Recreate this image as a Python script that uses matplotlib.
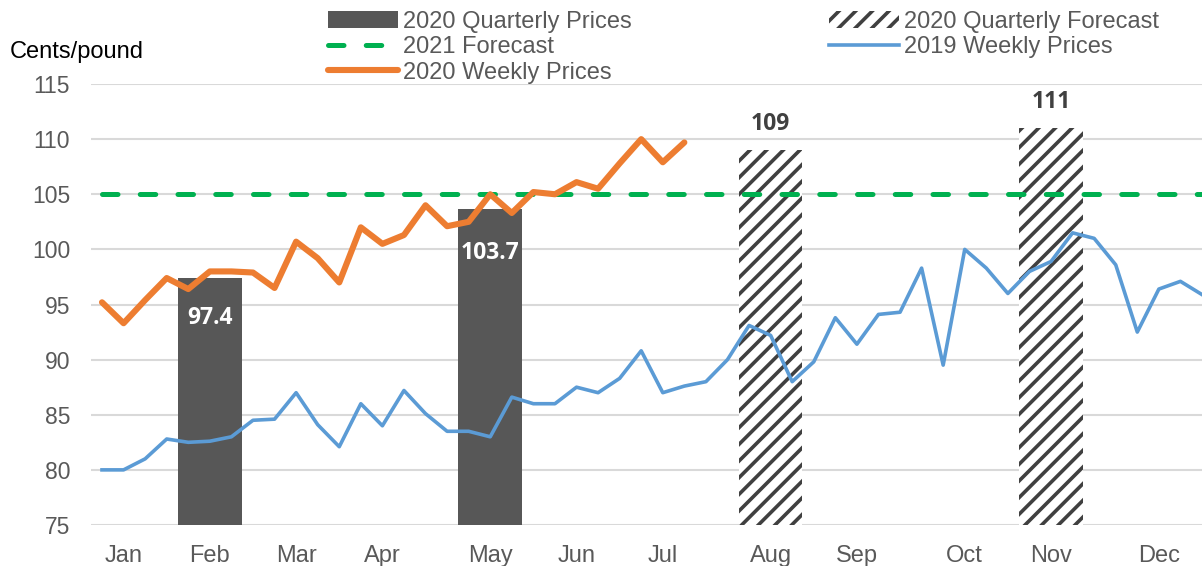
import numpy as np
import matplotlib.pyplot as plt
from matplotlib.patches import Patch
from matplotlib.lines import Line2D

plt.rcParams['font.family'] = ['Liberation Sans', 'DejaVu Sans']
plt.rcParams['hatch.linewidth'] = 2.6

# month labels sit on these week positions
months = ['Jan', 'Feb', 'Mar', 'Apr', 'May', 'Jun', 'Jul', 'Aug', 'Sep', 'Oct', 'Nov', 'Dec']
month_weeks = [1, 5, 9, 13, 18, 22, 26, 31, 35, 40, 44, 49]

prices_2019 = [80.0, 80.0, 81.0, 82.8, 82.5, 82.6, 83.0, 84.5, 84.6, 87.0,
               84.1, 82.1, 86.0, 84.0, 87.2, 85.1, 83.5, 83.5, 83.0, 86.6,
               86.0, 86.0, 87.5, 87.0, 88.3, 90.8, 87.0, 87.6, 88.0, 90.0,
               93.1, 92.2, 88.0, 89.8, 93.8, 91.4, 94.1, 94.3, 98.3, 89.5,
               100.0, 98.3, 96.0, 98.0, 98.9, 101.5, 101.0, 98.6, 92.5, 96.4,
               97.1, 95.9]
prices_2020 = [95.2, 93.3, 95.4, 97.4, 96.4, 98.0, 98.0, 97.9, 96.5, 100.7,
               99.2, 97.0, 102.0, 100.5, 101.3, 104.0, 102.1, 102.5, 105.0, 103.3,
               105.2, 105.0, 106.1, 105.5, 107.8, 110.0, 107.9, 109.7]
forecast_2021 = [105.0] * 52

quarter_weeks = [5, 18]
quarter_prices = [97.4, 103.7]
quarter_labels = ['97.4', '103.7']
fq_weeks = [31, 44]
fq_prices = [109, 111]
fq_labels = ['109', '111']

weeks_2019 = np.arange(len(prices_2019))
weeks_2020 = np.arange(len(prices_2020))

fig = plt.figure(figsize=(12.02, 5.66), dpi=100)
ax = fig.add_axes([91 / 1202, 1 - 525 / 566, (1202 - 91) / 1202, (525 - 84) / 566])

bw = 2.95
ax.bar(quarter_weeks, [p - 75 for p in quarter_prices], bottom=75, width=bw,
       color='#575757', zorder=2)
ax.bar(fq_weeks, [p - 75 for p in fq_prices], bottom=75, width=bw,
       color='white', edgecolor='#404040', linewidth=0, hatch='//', zorder=2)

ax.plot(np.arange(len(forecast_2021)), forecast_2021, color='#00B050', lw=3.6,
        dashes=(3.1, 4.45), dash_capstyle='round', zorder=3)
ax.plot(weeks_2019, prices_2019, color='#5B9BD5', lw=2.6, zorder=4)
ax.plot(weeks_2020, prices_2020, color='#ED7D31', lw=4.4, solid_capstyle='round', zorder=5)

# labels inside the solid bars, above the hatched ones
for w, p, t, off in zip(quarter_weeks, quarter_prices, quarter_labels, [-29, -32]):
    ax.annotate(t, (w, p), xytext=(0, off), textcoords='offset points', ha='center',
                va='center', color='white', fontsize=16.5, fontweight='bold',
                family=['Open Sans', 'DejaVu Sans'], zorder=6)
for w, p, t in zip(fq_weeks, fq_prices, fq_labels):
    ax.annotate(t, (w, p), xytext=(0, 19), textcoords='offset points', ha='center',
                va='center', color='#404040', fontsize=16.5, fontweight='bold',
                family=['Open Sans', 'DejaVu Sans'], zorder=6)

ax.set_xlim(-0.51, 51.0)
ax.set_ylim(75, 115)
ax.set_yticks(np.arange(75, 116, 5))
ax.set_xticks(month_weeks)
ax.set_xticklabels(months)
ax.tick_params(axis='both', length=0, labelcolor='#595959')
ax.tick_params(axis='y', pad=15, labelsize=16.5)
ax.tick_params(axis='x', pad=14.5, labelsize=17)
ax.grid(axis='y', color='#d9d9d9', lw=1.5, zorder=0)
ax.set_axisbelow(True)
for s in ax.spines.values():
    s.set_visible(False)

fig.text(10 / 1202, 1 - 52 / 566, 'Cents/pound', fontsize=17, color='black', va='center')

h1 = [Patch(facecolor='#575757', edgecolor='none'),
      Line2D([], [], color='#00B050', lw=3.6, dashes=(3.1, 4.45), dash_capstyle='round'),
      Line2D([], [], color='#ED7D31', lw=4.4, solid_capstyle='round')]
l1 = ['2020 Quarterly Prices', '2021 Forecast', '2020 Weekly Prices']
h2 = [Patch(facecolor='white', edgecolor='#404040', linewidth=0, hatch='//'),
      Line2D([], [], color='#5B9BD5', lw=2.6)]
l2 = ['2020 Quarterly Forecast', '2019 Weekly Prices']

kw = dict(frameon=False, fontsize=17, labelcolor='#595959', handlelength=2.95,
          handletextpad=0.22, labelspacing=0.14, borderpad=0, borderaxespad=0, loc='upper left')
fig.legend(h1, l1, bbox_to_anchor=(328 / 1202, 1 - 11 / 566), **kw)
fig.legend(h2, l2, bbox_to_anchor=(829 / 1202, 1 - 11 / 566), **kw)

fig.savefig('out.png', dpi=100)
